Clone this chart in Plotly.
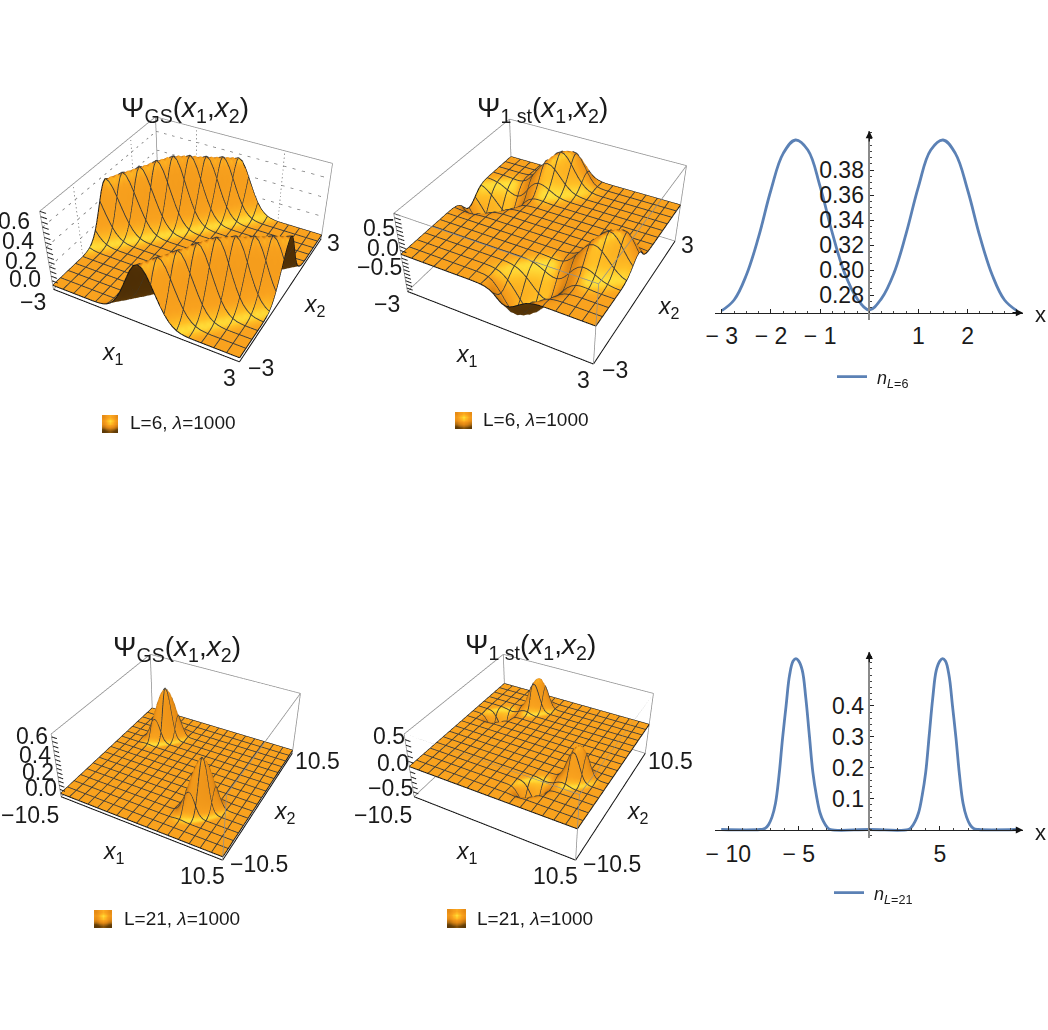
import numpy as np
import plotly.graph_objects as go

W, H = 1048, 1030
FONT = "Liberation Sans"
INK = "#1a1a1a"

# Cross-section of the ground-state ridge, steps of 0.125 away from |x1-x2| = 3 (L = 6)
gs6_across = [1.0, .96, .85, .70, .54, .39, .26, .16, .09, .045, .02, .008, .002]
# Ridge height along x1+x2, steps of 0.125 from the ridge centre (L = 6)
gs6_along = [.68, .68, .68, .675, .67, .665, .66, .655, .65, .64, .635, .63, .625,
             .62, .615, .61, .605, .60, .595, .59, .585, .58, .575, .565, .56]
# First excited state, L = 6
ex6_across = [1.0, .96, .86, .72, .56, .41, .28, .18, .10, .055, .025, .01, .003]
ex6_along = [0, .13, .25, .36, .45, .54, .61, .67, .72, .76, .80, .83, .85, .86, .86, .85,
             .83, .80, .75, .68, .59, .48, .37, .24, .13, .07, .035, .017, .009, .004]
# Localised peaks, L = 21, steps of 0.21875
gs21_across = [1.0, .97, .88, .74, .58, .42, .28, .17, .09, .05, .02, .008]
gs21_along = [.60, .594, .582, .564, .54, .51, .474, .438, .396, .348, .30, .258, .216,
              .174, .138, .108, .078, .054, .036, .024, .015, .009, .005, .002]
ex21_across = [1.0, .97, .88, .74, .58, .42, .28, .17, .09, .05, .02, .008]
ex21_along = [0, .02, .04, .06, .09, .12, .16, .21, .26, .33, .38, .44, .48, .52, .56, .58,
              .595, .60, .60, .59, .57, .53, .49, .44, .38, .32, .25, .20, .14, .10, .065, .04,
              .02, .01, .004]

# Density profiles on the right-hand half-line (the curves are even in x)
n6_x = [0, .25, .5, .75, 1, 1.25, 1.5, 1.75, 2, 2.25, 2.5, 2.75, 3]
n6_y = [.268, .2773, .2973, .3293, .3667, .396, .404, .3933, .364, .3267, .296, .276, .2675]
n21_x = [0, 2.75, 3, 3.25, 3.5, 3.75, 4, 4.25, 4.5, 4.75, 5, 5.2, 5.4, 5.65, 5.9, 6.15, 6.4,
         6.65, 6.9, 7.15, 7.4, 7.75, 10.5]
n21_y = [0, 0, .008, .026, .055, .11, .185, .305, .425, .515, .545, .553, .545, .50, .40,
         .295, .175, .085, .04, .015, .003, 0, 0]

# Colour ramp used by the surfaces and the legend swatches
SHADE = [[0, "#4a2c05"], [.35, "#6a4208"], [.5, "#9a6010"], [.65, "#c97a12"], [.785, "#e88d16"],
         [.905, "#f9a21e"], [.96, "#ffbf25"], [1, "#ffe23c"]]
swatch_shade = [[.55, .75, .85, .75, .55], [.7, .9, 1, .9, .7], [.55, .8, .92, .8, .55],
                [.1, .4, .55, .4, .1], [-.6, -.3, -.1, -.3, -.6]]

VIEW = np.array([1.3, -2.4, 2.0])


def table(values, k):
    return values[k] if k < len(values) else 0.0


def build_grid(n, centre, across, along, signed=False, hold_last=False, neg=1.0):
    z = np.zeros((n + 1, n + 1))
    for i in range(n + 1):
        for j in range(n + 1):
            k = abs(abs(i - j) - centre)
            m = abs(i + j - n)
            a = along[min(m, len(along) - 1)] if hold_last else table(along, m)
            sign = (1 if i + j > n else -neg) if signed else 1
            z[j, i] = sign * table(across, k) * a
    return z


def shading(z, zspan, aspect):
    n = z.shape[0] - 1
    step = 1.0 / n
    dzdy, dzdx = np.gradient(z * aspect / zspan, step)
    norm = np.sqrt(dzdx ** 2 + dzdy ** 2 + 1)
    nx, ny, nz = -dzdx / norm, -dzdy / norm, 1 / norm
    light = np.array([.3, -.5, .81])
    t = nx * light[0] + ny * light[1] + nz * light[2]
    v = VIEW / np.linalg.norm(VIEW)
    facing = nx * v[0] + ny * v[1] + nz * v[2]
    return np.where(facing < 0, np.minimum(t, -0.35 + facing), t)


def px_x(p):
    return p / W


def px_y(p):
    return 1 - p / H


WIDE = dict(a=(-20, 13), b=(-10, 16), c=(22, 6), d=(12, 4), e=(-28, 30), f=(31, 11))
LONG = dict(a=(-31, 18), b=(-20, 16), c=(36, 4), d=(25, 8), e=(-23, 26), f=(24, 11))

panels = [
    dict(scene="scene", L=6, n=48, z=build_grid(48, 24, gs6_across, gs6_along, hold_last=True),
         zr=(-.045, .75), aspect=.46, xd=(0, 386), yd=(0, 575), lift=-.395, zstep=.05, grid=True, front=False,
         zlabels=[(.6, "0.6"), (.4, "0.4"), (.2, "0.2"), (0, "0.0")], zshift=(-10, -6),
         ends=("−3", "3"), off=WIDE),
    dict(scene="scene2", L=6, n=48, z=build_grid(48, 24, ex6_across, ex6_along, signed=True),
         zr=(-1.0, 1.0), aspect=.46, xd=(362, 732), yd=(0, 575), lift=-.38, zstep=.1, grid=False, front=True,
         zlabels=[(.5, "0.5"), (0, "0.0"), (-.5, "−0.5")], zshift=(0, -6),
         ends=("−3", "3"), off=WIDE),
    dict(scene="scene3", L=21, n=96, z=build_grid(96, 48, gs21_across, gs21_along),
         zr=(-.04, .68), aspect=.43, xd=(0, 364), yd=(497, 992), lift=0, zstep=.05, grid=False, front=True,
         zlabels=[(.6, "0.6"), (.4, "0.4"), (.2, "0.2"), (0, "0.0")], zshift=(-2, -5),
         ends=("−10.5", "10.5"), off=LONG),
    dict(scene="scene4", L=21, n=96, z=build_grid(96, 48, ex21_across, ex21_along, signed=True, neg=.65),
         zr=(-.6, .6), aspect=.43, xd=(370, 700), yd=(497, 992), lift=0, zstep=.1, grid=False, front=True,
         zlabels=[(.5, "0.5"), (0, "0.0"), (-.5, "−0.5")], zshift=(2, -4),
         ends=("−10.5", "10.5"), off=LONG),
]

fig = go.Figure()
layout = {}


def segments(pairs):
    xs, ys, zs = [], [], []
    for a, b in pairs:
        xs += [a[0], b[0], None]
        ys += [a[1], b[1], None]
        zs += [a[2], b[2], None]
    return xs, ys, zs


for p in panels:
    L, n, z = p["L"], p["n"], p["z"]
    half = L / 2
    lo, hi = p["zr"]
    # Floor of the frame sits a hair inside the axis range so it is never clipped
    floor = lo + (hi - lo) * 1e-3
    coords = np.linspace(-half, half, n + 1)
    scene = p["scene"]
    fig.add_trace(go.Surface(
        x=coords, y=coords, z=z, surfacecolor=shading(z, hi - lo, p["aspect"]), colorscale=SHADE,
        cmin=-1, cmax=1, showscale=False, hoverinfo="skip", scene=scene,
        lighting=dict(ambient=1, diffuse=0, specular=0, roughness=1, fresnel=0),
        contours=dict(x=dict(show=False, highlight=False), y=dict(show=False, highlight=False),
                      z=dict(show=False, highlight=False)),
    ))
    # Sixteen-cell mesh following the surface, nudged just above it
    stride = n // 16
    eps = (hi - lo) * .004
    mx, my, mz = [], [], []
    for idx in range(stride, n, stride):
        mx += list(coords) + [None] + [coords[idx]] * (n + 1) + [None]
        my += [coords[idx]] * (n + 1) + [None] + list(coords) + [None]
        mz += list(z[idx, :] + eps) + [None] + list(z[:, idx] + eps) + [None]
    fig.add_trace(go.Scatter3d(x=mx, y=my, z=mz, mode="lines", scene=scene, showlegend=False,
                               hoverinfo="skip", line=dict(color="#3a3a3a", width=1.8)))
    # Surface boundary
    for xs, ys, zs in [
        (coords, np.full(n + 1, -half), z[0, :]),
        (coords, np.full(n + 1, half), z[-1, :]),
        (np.full(n + 1, -half), coords, z[:, 0]),
        (np.full(n + 1, half), coords, z[:, -1]),
    ]:
        fig.add_trace(go.Scatter3d(x=xs, y=ys, z=zs, mode="lines", scene=scene, showlegend=False,
                                   hoverinfo="skip", line=dict(color="#151515", width=2)))
    # Bounding box
    A, B, C, D = (-half, -half), (half, -half), (half, half), (-half, half)
    back = [((*A, hi), (*D, hi)), ((*D, hi), (*C, hi)), ((*A, floor), (*A, hi)), ((*D, floor), (*D, hi)),
            ((*C, floor), (*C, hi)), ((*A, floor), (*D, floor)), ((*D, floor), (*C, floor))]
    front = [((*A, hi), (*B, hi)), ((*B, hi), (*C, hi)), ((*B, floor), (*B, hi))]
    xs, ys, zs = segments(back + (front if p["front"] else []))
    fig.add_trace(go.Scatter3d(x=xs, y=ys, z=zs, mode="lines", scene=scene, showlegend=False,
                               hoverinfo="skip", line=dict(color="#8e8e8e", width=1.5)))
    xs, ys, zs = segments([((*A, floor), (*B, floor)), ((*B, floor), (*C, floor))])
    fig.add_trace(go.Scatter3d(x=xs, y=ys, z=zs, mode="lines", scene=scene, showlegend=False,
                               hoverinfo="skip", line=dict(color="#111111", width=2)))
    # Vertical-axis tick marks along the left corner
    ticks = np.arange(np.ceil(lo / p["zstep"]), np.floor(hi / p["zstep"]) + 1) * p["zstep"]
    xs, ys, zs = segments([((-half, -half, t), (-half + L * .035, -half, t)) for t in ticks])
    fig.add_trace(go.Scatter3d(x=xs, y=ys, z=zs, mode="lines", scene=scene, showlegend=False,
                               hoverinfo="skip", line=dict(color="#222222", width=2)))
    if p["grid"]:
        pairs = []
        for t in (.2, .4, .6):
            pairs += [((*A, t), (*D, t)), ((*D, t), (*C, t))]
        for c in (-half / 2, half / 2):
            pairs += [((c, half, floor), (c, half, hi)), ((-half, c, floor), (-half, c, hi))]
        xs, ys, zs = segments(pairs)
        fig.add_trace(go.Scatter3d(x=xs, y=ys, z=zs, mode="lines", scene=scene, showlegend=False,
                                   hoverinfo="skip", line=dict(color="#777777", width=1.5, dash="dot")))

    def tag(x, y, zv, text, shift, size=23, anchor="center"):
        return dict(x=x, y=y, z=zv, text=text, showarrow=False, xshift=shift[0], yshift=-shift[1],
                    xanchor=anchor, yanchor="middle", font=dict(family=FONT, size=size, color=INK))

    o = p["off"]
    notes = [
        tag(-half, -half, floor, p["ends"][0], o["a"]),
        tag(half, -half, floor, p["ends"][1], o["b"]),
        tag(half, -half, floor, p["ends"][0], o["c"]),
        tag(half, half, floor, p["ends"][1], o["d"]),
        tag(0, -half, floor, "<i>x</i><sub>1</sub>", o["e"]),
        tag(half, 0, floor, "<i>x</i><sub>2</sub>", o["f"]),
    ]
    for v, label in p["zlabels"]:
        notes.append(tag(-half, -half, v, label, p["zshift"], anchor="right"))
    layout[scene] = dict(
        domain=dict(x=[px_x(p["xd"][0]), px_x(p["xd"][1])], y=[px_y(p["yd"][1]), px_y(p["yd"][0])]),
        xaxis=dict(visible=False, range=[-half, half]),
        yaxis=dict(visible=False, range=[-half, half]),
        zaxis=dict(visible=False, range=[lo, hi]),
        aspectmode="manual", aspectratio=dict(x=1, y=1, z=p["aspect"]),
        camera=dict(eye=dict(x=VIEW[0], y=VIEW[1], z=VIEW[2]), center=dict(x=0, y=0, z=p["lift"]),
                    up=dict(x=0, y=0, z=1), projection=dict(type="perspective")),
        bgcolor="rgba(0,0,0,0)",
        annotations=notes,
    )

# Density curves with axes crossing inside the frame
LINE = "#5b81b5"
density = [
    dict(ax="x", ay="y", xd=(715, 1023), yd=(131, 320), xr=(-3.138, 3.126), yr=(.26, .4112),
         axis_px=312.7, zero_px=869.3, xs=n6_x, ys=n6_y, name="\u00a0<i>n</i><sub><i>L</i>=6</sub>",
         xt=[-3, -2, -1, 1, 2], xl=["− 3", "− 2", "− 1", "1", "2"], xm=.25,
         yt=[.28, .30, .32, .34, .36, .38], yl=["0.28", "0.30", "0.32", "0.34", "0.36", "0.38"], ym=.005,
         legend="legend"),
    dict(ax="x2", ay="y2", xd=(715, 1023), yd=(651.7, 838.3), xr=(-10.94, 10.9), yr=(-.0285, .5754),
         axis_px=830, zero_px=869.3, xs=n21_x, ys=n21_y, name="\u00a0<i>n</i><sub><i>L</i>=21</sub>",
         xt=[-10, -5, 5], xl=["− 10", "− 5", "5"], xm=1,
         yt=[.1, .2, .3, .4], yl=["0.1", "0.2", "0.3", "0.4"], ym=.02,
         legend="legend2"),
]
annotations = []
for d in density:
    xs = [-v for v in reversed(d["xs"][1:])] + list(d["xs"])
    ys = list(reversed(d["ys"][1:])) + list(d["ys"])
    fig.add_trace(go.Scatter(x=xs, y=ys, xaxis=d["ax"], yaxis=d["ay"], mode="lines", name=d["name"],
                             legend=d["legend"], hoverinfo="skip",
                             line=dict(color=LINE, width=2.8, shape="spline", smoothing=1.1)))
    xname = "xaxis" + d["ax"][1:]
    yname = "yaxis" + d["ay"][1:]
    layout[xname] = dict(
        domain=[px_x(d["xd"][0]), px_x(d["xd"][1])], range=d["xr"], anchor="free", position=px_y(d["axis_px"]),
        tickmode="array", tickvals=d["xt"], ticktext=d["xl"], ticks="inside", ticklen=4, tickcolor="#222",
        minor=dict(tickmode="linear", tick0=0, dtick=d["xm"], ticks="inside", ticklen=2, tickcolor="#444"),
        showgrid=False, zeroline=False, showline=True, linecolor="#222", linewidth=1,
        tickfont=dict(family=FONT, size=23, color=INK), ticklabelstandoff=3, tickangle=0, automargin=False,
    )
    layout[yname] = dict(
        domain=[px_y(d["yd"][1]), px_y(d["yd"][0])], range=d["yr"], anchor="free", position=px_x(d["zero_px"]),
        tickmode="array", tickvals=d["yt"], ticktext=d["yl"], ticks="inside", ticklen=4, tickcolor="#222",
        minor=dict(tickmode="linear", tick0=0, dtick=d["ym"], ticks="inside", ticklen=2, tickcolor="#444"),
        showgrid=False, zeroline=False, showline=True, linecolor="#8a8a8a", linewidth=1.5,
        tickfont=dict(family=FONT, size=23, color=INK), ticklabelstandoff=0, automargin=False,
    )
    # Axis arrowheads
    annotations.append(dict(xref=d["ax"], yref="paper", x=d["xr"][1], y=px_y(d["axis_px"]), ax=-12, ay=0,
                            text="", showarrow=True, arrowhead=2, arrowsize=1.2, arrowwidth=1.2, arrowcolor="#111"))
    annotations.append(dict(xref="paper", yref=d["ay"], x=px_x(d["zero_px"]), y=d["yr"][1], ax=0, ay=12,
                            text="", showarrow=True, arrowhead=2, arrowsize=1.2, arrowwidth=1.2, arrowcolor="#111"))
    annotations.append(dict(xref="paper", yref="paper", x=px_x(1040), y=px_y(d["axis_px"] + 2), text="x",
                            showarrow=False, xanchor="center", yanchor="middle",
                            font=dict(family=FONT, size=22, color=INK)))

layout["legend"] = dict(x=px_x(832), y=px_y(377), xanchor="left", yanchor="middle", bgcolor="rgba(0,0,0,0)",
                        font=dict(family=FONT, size=18, color=INK), itemwidth=30)
layout["legend2"] = dict(x=px_x(829), y=px_y(893), xanchor="left", yanchor="middle", bgcolor="rgba(0,0,0,0)",
                         font=dict(family=FONT, size=18, color=INK), itemwidth=30)

# Legend swatches next to each surface
swatches = [
    dict(box=(102, 118, 415, 433), tx=128, ty=423, text="L=6, <i>λ</i>=1000"),
    dict(box=(455, 472, 412, 429), tx=481, ty=419, text="L=6, <i>λ</i>=1000"),
    dict(box=(94, 112, 910, 928), tx=122, ty=918, text="L=21, <i>λ</i>=1000"),
    dict(box=(447, 466, 909, 928), tx=475, ty=918, text="L=21, <i>λ</i>=1000"),
]
for idx, s in enumerate(swatches):
    k = idx + 3
    fig.add_trace(go.Heatmap(z=swatch_shade[::-1], colorscale=SHADE, zmin=-1, zmax=1, zsmooth="best",
                             showscale=False, hoverinfo="skip", xaxis=f"x{k}", yaxis=f"y{k}"))
    layout[f"xaxis{k}"] = dict(domain=[px_x(s["box"][0]), px_x(s["box"][1])], visible=False, anchor=f"y{k}")
    layout[f"yaxis{k}"] = dict(domain=[px_y(s["box"][3]), px_y(s["box"][2])], visible=False, anchor=f"x{k}")
    annotations.append(dict(xref="paper", yref="paper", x=px_x(s["tx"]), y=px_y(s["ty"]), text=s["text"],
                            showarrow=False, xanchor="left", yanchor="middle",
                            font=dict(family=FONT, size=19, color=INK)))

# Panel headings
GS = "Ψ<sub>GS</sub>(<i>x</i><sub>1</sub>,<i>x</i><sub>2</sub>)"
FIRST = "Ψ<sub>1 st</sub>(<i>x</i><sub>1</sub>,<i>x</i><sub>2</sub>)"
for text, cx, cy in [(GS, 185, 109), (FIRST, 542, 110), (GS, 177, 648), (FIRST, 530, 646)]:
    annotations.append(dict(xref="paper", yref="paper", x=px_x(cx), y=px_y(cy), text=text, showarrow=False,
                            xanchor="center", yanchor="middle", font=dict(family=FONT, size=28, color=INK)))

layout["annotations"] = annotations
fig.update_layout(width=W, height=H, margin=dict(l=0, r=0, t=0, b=0, autoexpand=False), paper_bgcolor="white",
                  plot_bgcolor="rgba(0,0,0,0)", showlegend=True, **layout)
fig.write_html("out.html", config=dict(displayModeBar=False))
